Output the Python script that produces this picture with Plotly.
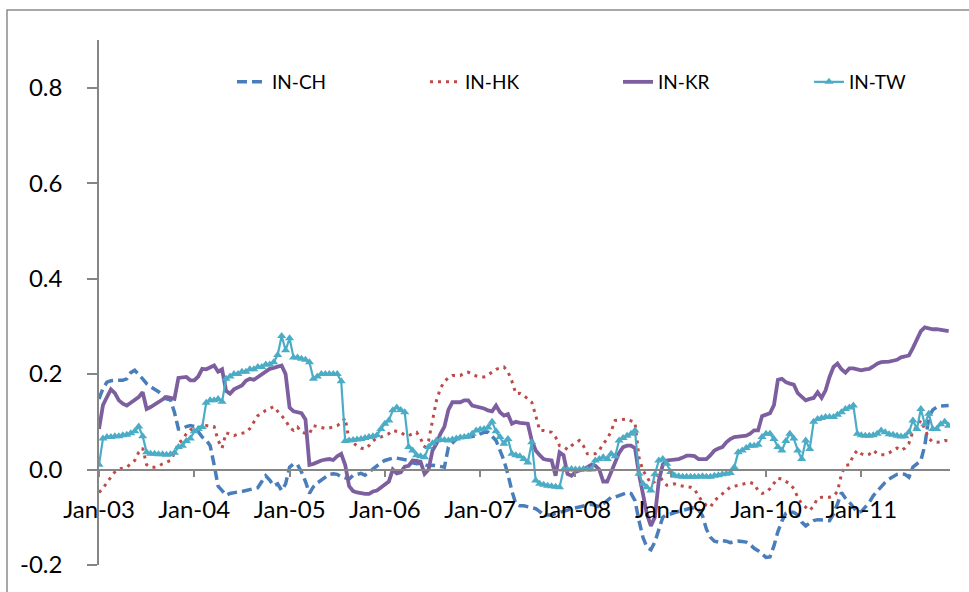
import pandas as pd
import plotly.graph_objects as go

# ---------------- data (semi-monthly readings, Jan-03 .. Dec-11) ----------------
series_names = ["IN-CH", "IN-HK", "IN-KR", "IN-TW"]
start_date = "2003-01-08"
step_days = 365.25 / 24

in_ch = [
    .148, .170, .183, .186, .187, .187, .187, .190, .203, .208, .200, .190, .180, .173, .168, .163, .155, .148, .146, .120, .085, .085, .090, .092,
    .090, .078, .068, .062, .050, .010, -.035, -.044, -.054, -.050, -.048, -.047, -.046, -.044, -.043, -.041, -.038, -.025, -.013, -.022, -.034, -.030, -.044, -.030,
    .005, .012, .010, -.005, -.025, -.050, -.036, -.028, -.022, -.015, -.010, -.009, -.010, -.015, -.018, -.020, -.012, -.010, -.008, -.012, -.005, .000, .008, .014,
    .019, .022, .024, .024, .022, .021, .019, .014, .012, .013, .011, .007, .009, .008, .007, .005, .047, .055, .064, .066, .068, .068, .070, .071,
    .075, .078, .078, .070, .061, .040, .019, -.010, -.045, -.072, -.076, -.076, -.078, -.079, -.082, -.088, -.095, -.095, -.095, -.092, -.090, -.088, -.085, -.082,
    -.080, -.078, -.076, -.074, -.073, -.075, -.078, -.072, -.065, -.058, -.058, -.055, -.051, -.048, -.050, -.065, -.107, -.142, -.163, -.168, -.152, -.125, -.100, -.094,
    -.093, -.090, -.088, -.085, -.083, -.081, -.079, -.085, -.097, -.125, -.142, -.150, -.152, -.149, -.150, -.153, -.152, -.150, -.151, -.152, -.157, -.165, -.170, -.178,
    -.184, -.183, -.160, -.130, -.108, -.092, -.088, -.090, -.095, -.110, -.118, -.112, -.107, -.105, -.105, -.106, -.107, -.093, -.072, -.048, -.060, -.068, -.079, -.090,
    -.088, -.078, -.069, -.055, -.045, -.035, -.027, -.020, -.016, -.010, -.009, -.010, -.016, .005, .012, .019, .050, .110, .125, .131, .133, .134, .134,
]

in_hk = [
    -.048, -.040, -.027, -.015, -.005, .001, .003, .005, .012, .019, .036, .045, .010, .005, .005, .007, .012, .015, .019, .035, .055, .062, .075, .083,
    .086, .088, .090, .092, .091, .090, .061, .045, .077, .074, .071, .074, .076, .078, .086, .100, .113, .118, .124, .128, .132, .122, .113, .103,
    .088, .082, .089, .078, .076, .075, .092, .090, .088, .086, .087, .089, .092, .098, .108, .061, .055, .050, .045, .043, .050, .060, .066, .068,
    .072, .075, .082, .080, .078, .072, .071, .075, .078, .065, .047, .060, .100, .145, .170, .185, .192, .197, .197, .197, .202, .204, .200, .196,
    .194, .194, .198, .204, .210, .213, .215, .205, .185, .159, .160, .155, .148, .141, .113, .082, .082, .080, .078, .068, .050, .048, .042, .050,
    .056, .061, .050, .033, .033, .033, .040, .054, .064, .080, .103, .104, .105, .106, .102, .099, .026, -.002, -.015, -.030, -.025, -.009, -.025, -.033,
    -.032, -.030, -.033, -.035, -.036, -.037, -.042, -.055, -.068, -.075, -.079, -.065, -.058, -.052, -.045, -.037, -.035, -.033, -.031, -.029, -.027, -.030, -.044, -.050,
    -.048, -.040, -.030, -.018, -.020, -.025, -.030, -.040, -.058, -.072, -.080, -.086, -.076, -.060, -.058, -.058, -.058, -.055, -.046, -.010, .009, .010, .030, .040,
    .033, .030, .032, .040, .034, .031, .031, .035, .040, .045, .040, .045, .055, .080, .090, .103, .085, .065, .058, .057, .058, .061, .060,
]

in_kr = [
    .085, .135, .152, .168, .160, .145, .138, .134, .140, .146, .152, .162, .127, .131, .136, .141, .147, .152, .150, .148, .192, .194, .194, .187,
    .187, .195, .211, .210, .214, .218, .205, .210, .165, .159, .168, .172, .176, .186, .190, .188, .194, .200, .204, .211, .213, .215, .218, .200,
    .130, .122, .120, .118, .105, .010, .012, .016, .019, .021, .022, .020, .028, .033, .010, -.035, -.045, -.048, -.050, -.051, -.051, -.046, -.044, -.038,
    -.032, -.025, .000, -.008, -.006, .006, .008, .019, .018, .016, -.009, .000, .040, .054, .075, .090, .125, .141, .141, .141, .145, .145, .134, .132,
    .131, .128, .124, .122, .134, .120, .113, .116, .096, .100, .098, .096, .096, .061, .040, .030, .022, .020, .019, -.013, .036, .030, -.009, -.013,
    -.005, -.002, .000, .005, .010, .008, .000, -.025, -.025, -.005, .015, .035, .047, .050, .050, .045, -.009, -.050, -.093, -.118, -.100, -.023, .010, .019,
    .020, .022, .022, .025, .029, .029, .028, .022, .022, .022, .030, .040, .044, .047, .057, .064, .068, .068, .070, .071, .075, .082, .082, .112,
    .115, .118, .135, .188, .190, .183, .180, .178, .160, .152, .145, .148, .150, .162, .150, .166, .194, .215, .222, .210, .203, .212, .212, .210,
    .208, .210, .211, .216, .222, .225, .225, .226, .228, .230, .235, .237, .239, .255, .275, .290, .298, .295, .294, .294, .292, .292, .290,
]

in_tw = [
    .010, .065, .068, .068, .070, .070, .072, .073, .076, .080, .090, .070, .036, .033, .033, .032, .032, .031, .032, .035, .047, .050, .060, .065,
    .080, .085, .089, .140, .145, .145, .148, .142, .190, .195, .200, .200, .205, .205, .210, .210, .215, .215, .220, .220, .225, .240, .280, .250,
    .275, .235, .235, .232, .230, .225, .190, .195, .200, .200, .200, .200, .200, .185, .060, .061, .062, .063, .064, .066, .068, .070, .072, .085,
    .096, .103, .124, .130, .125, .120, .047, .040, .030, .028, .026, .047, .055, .061, .062, .062, .061, .063, .065, .067, .068, .070, .075, .082,
    .084, .085, .088, .100, .080, .068, .054, .064, .033, .030, .028, .022, .015, .057, -.023, -.030, -.032, -.034, -.035, -.036, -.037, .000, .000, .001,
    .000, .000, .001, .000, .000, .019, .022, .026, .022, .033, .028, .061, .066, .071, .075, .082, -.009, -.030, -.037, -.044, -.010, .019, .022, .012,
    -.005, -.013, -.014, -.015, -.015, -.015, -.015, -.015, -.014, -.015, -.015, -.013, -.012, -.010, -.009, -.007, .005, .036, .040, .045, .050, .050, .052, .068,
    .075, .075, .064, .047, .040, .060, .075, .065, .040, .022, .061, .043, .100, .106, .108, .110, .110, .110, .115, .120, .127, .130, .134, .075,
    .072, .071, .071, .072, .075, .082, .078, .074, .073, .071, .069, .070, .078, .103, .085, .127, .095, .117, .085, .085, .095, .100, .092,
]

x_tick_dates = ["2003-01-08", "2004-01-08", "2005-01-08", "2006-01-08", "2007-01-08",
                "2008-01-08", "2009-01-08", "2010-01-08", "2011-01-08"]
x_tick_labels = ["Jan-03", "Jan-04", "Jan-05", "Jan-06", "Jan-07", "Jan-08", "Jan-09", "Jan-10", "Jan-11"]
y_tick_vals = [-0.2, 0.0, 0.2, 0.4, 0.6, 0.8]
y_tick_labels = ["-0.2", "0.0", "0.2", "0.4", "0.6", "0.8"]

# ---------------- figure ----------------
def dates_for(values):
    return pd.date_range(start_date, periods=len(values), freq=pd.Timedelta(days=step_days))

FONT = "Lato, 'Open Sans', 'DejaVu Sans', sans-serif"
AXIS_GRAY = "#868686"
PLOT_L, PLOT_W = 99, 851

fig = go.Figure()
fig.add_trace(go.Scatter(
    x=dates_for(in_ch), y=in_ch, name=series_names[0], mode="lines", legend="legend",
    line=dict(color="#4A7EBB", width=3.5, dash="10px,5px")))
fig.add_trace(go.Scatter(
    x=dates_for(in_hk), y=in_hk, name=series_names[1], mode="lines", legend="legend2",
    line=dict(color="#BE4B48", width=3, dash="3px,5px")))
fig.add_trace(go.Scatter(
    x=dates_for(in_kr), y=in_kr, name=series_names[2], mode="lines", legend="legend3",
    line=dict(color="#7D5FA0", width=3.8)))
fig.add_trace(go.Scatter(
    x=dates_for(in_tw), y=in_tw, name=series_names[3], mode="lines+markers", legend="legend4",
    line=dict(color="#4BACC6", width=2.2),
    marker=dict(symbol="triangle-up", size=8, color="#4BACC6")))


def legend_at(text_left_px):
    return dict(orientation="h", x=(text_left_px - 40 - PLOT_L) / PLOT_W, y=0.92,
                xanchor="left", yanchor="middle",
                font=dict(size=19, family=FONT, color="#000000"),
                bgcolor="rgba(0,0,0,0)")


fig.update_layout(
    width=969, height=592,
    margin=dict(l=99, r=19, t=40, b=27),
    paper_bgcolor="white", plot_bgcolor="white",
    font=dict(family=FONT, color="#000000", size=24),
    showlegend=True,
    legend=legend_at(272),
    legend2=legend_at(465),
    legend3=legend_at(658),
    legend4=legend_at(849),
    xaxis=dict(type="date", range=["2003-01-08", "2011-12-14"],
               tickvals=x_tick_dates, ticktext=x_tick_labels,
               anchor="free", position=0.2 / 1.1,
               showline=True, linecolor=AXIS_GRAY, linewidth=1.5,
               ticks="outside", ticklen=7, tickwidth=1.5, tickcolor=AXIS_GRAY,
               showgrid=False, zeroline=False, ticklabelstandoff=12,
               tickfont=dict(size=24, family=FONT, color="#000000")),
    yaxis=dict(range=[-0.2, 0.9], tickvals=y_tick_vals, ticktext=y_tick_labels,
               showline=True, linecolor=AXIS_GRAY, linewidth=1.5,
               ticks="outside", ticklen=10, tickwidth=1.5, tickcolor=AXIS_GRAY,
               showgrid=False, zeroline=False, ticklabelstandoff=20,
               tickfont=dict(size=24, family=FONT, color="#000000")),
    shapes=[dict(type="rect", xref="paper", yref="paper",
                 x0=(7 - PLOT_L) / PLOT_W, x1=(980 - PLOT_L) / PLOT_W,
                 y0=(565 - 600) / 525, y1=(565 - 10) / 525,
                 line=dict(color="#8C8C8C", width=1.5), fillcolor="rgba(0,0,0,0)",
                 layer="below")],
)

fig.write_html("out.html")
